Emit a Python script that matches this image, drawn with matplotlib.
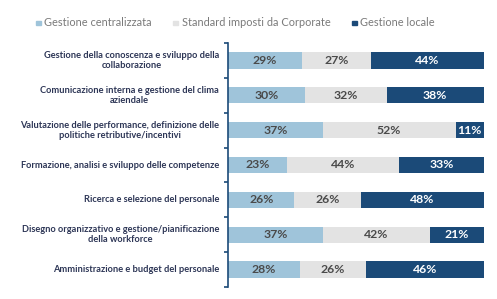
import matplotlib
matplotlib.use("Agg")
import matplotlib.pyplot as plt
from matplotlib.patches import Rectangle

categories = [
    "Gestione della conoscenza e sviluppo della\ncollaborazione",
    "Comunicazione interna e gestione del clima\naziendale",
    "Valutazione delle performance, definizione delle\npolitiche retributive/incentivi",
    "Formazione, analisi e sviluppo delle competenze",
    "Ricerca e selezione del personale",
    "Disegno organizzativo e gestione/pianificazione\ndella workforce",
    "Amministrazione e budget del personale",
]
series_names = ["Gestione centralizzata", "Standard imposti da Corporate", "Gestione locale"]
centralizzata = [29, 30, 37, 23, 26, 37, 28]
standard = [27, 32, 52, 44, 26, 42, 26]
locale = [44, 38, 11, 33, 48, 21, 46]

colors = ["#9fc4da", "#e3e3e3", "#1b4a78"]
text_colors = ["#4a4a4a", "#4a4a4a", "#ffffff"]
label_color = "#2d3656"

plt.rcParams['font.family'] = ['Lato', 'DejaVu Sans']

W, H = 497, 299
fig = plt.figure(figsize=(W/100, H/100), dpi=100)
ax = fig.add_axes([228/W, 1-287/H, (485-228)/W, (287-43)/H])

series = [centralizzata, standard, locale]
y = list(range(len(categories)))
left = [0]*len(categories)
for vals, c, tc in zip(series, colors, text_colors):
    ax.barh(y, vals, left=left, height=0.47, color=c, edgecolor='none')
    for yi, v, l in zip(y, vals, left):
        ax.text(l + v/2, yi, f"{v}%", ha='center', va='center', fontsize=8.8,
                color=tc, fontweight='bold')
    left = [a+b for a, b in zip(left, vals)]

ax.set_xlim(0, 100.5)
ax.set_ylim(len(categories)-0.5, -0.5)
for s in ['top', 'right', 'bottom']:
    ax.spines[s].set_visible(False)
ax.spines['left'].set_color('#1b4a78')
ax.spines['left'].set_linewidth(1.2)
ax.set_xticks([])
ax.set_yticks([i - 0.5 for i in range(len(categories)+1)])
ax.set_yticklabels([])
ax.tick_params(axis='y', length=3, width=1.2, color='#1b4a78')
for yi, cat in zip(y, categories):
    ax.text(-0.035, yi, cat, transform=ax.get_yaxis_transform(), ha='right', va='center',
            fontsize=6.7, fontweight='bold', color=label_color, linespacing=1.15,
            multialignment='center')

# legend (manual placement)
sq_x = [36, 173, 352]
txt_x = [44, 182, 360]
ly = 23
sq = 4.5
for sx, tx, name, c in zip(sq_x, txt_x, series_names, colors):
    fig.patches.append(Rectangle((sx/W, 1-(ly+sq/2)/H), sq/W, sq/H, color=c,
                                 transform=fig.transFigure, figure=fig))
    fig.text(tx/W, 1-ly/H, name, ha='left', va='center', fontsize=7.9, color='#7a7a7a')

fig.savefig("out.png", dpi=100)
